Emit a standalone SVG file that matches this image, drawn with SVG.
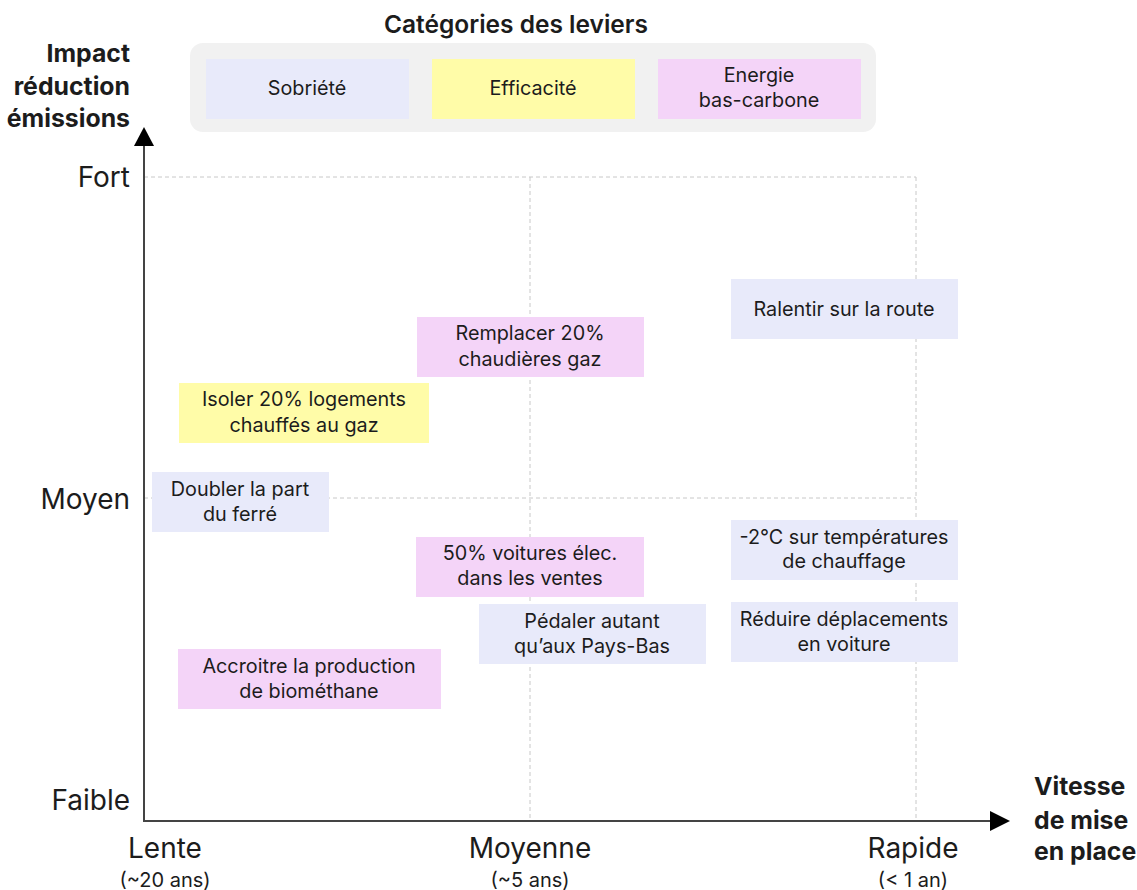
<svg xmlns="http://www.w3.org/2000/svg" width="1137" height="890" viewBox="0 0 1137 890">
<style>
text{font-family:Inter,"Liberation Sans",sans-serif;fill:#1c1c1c}
.n{font-size:19.8px;text-anchor:middle}
.tick{font-size:28px}
.ttl{font-size:24.8px;font-weight:700}
.sub{font-size:20px;text-anchor:middle}
.sob{fill:#e8eafa}
.eff{fill:#fffca8}
.ene{fill:#f4d4f8}
.grid{stroke:#c8c8c8;stroke-width:1;stroke-dasharray:4 3;fill:none}
.axis{stroke:#444;stroke-width:2;fill:none}
</style>
<rect width="1137" height="890" fill="#fff"/>
<g id="legend">
<text x="516" y="33" style="font-size:24.5px;font-weight:600" text-anchor="middle">Catégories des leviers</text>
<rect x="190" y="43" width="686" height="89" rx="13" fill="#f1f1f1"/>
<rect class="sob" x="206" y="59" width="203" height="60"/>
<text class="n" x="307" y="95">Sobriété</text>
<rect class="eff" x="432" y="59" width="203" height="60"/>
<text class="n" x="533" y="95">Efficacité</text>
<rect class="ene" x="658" y="59" width="203" height="60"/>
<text class="n" x="759" y="82">Energie</text>
<text class="n" x="759" y="107">bas-carbone</text>
</g>
<g id="grid">
<path class="grid" d="M144 177H916M144 498H916M530 177V821M916 177V821"/>
</g>
<g id="axes">
<path class="axis" d="M144 143V821H992"/>
<polygon points="144,127 134,146 154,146" fill="#000"/>
<polygon points="1010,821 990,811 990,831" fill="#000"/>
</g>
<g id="axis-labels">
<text class="ttl" x="130" y="62" text-anchor="end">Impact</text>
<text class="ttl" x="130" y="95" text-anchor="end">réduction</text>
<text class="ttl" x="130" y="127" text-anchor="end">émissions</text>
<text class="tick" x="130" y="187" text-anchor="end">Fort</text>
<text class="tick" x="130" y="509" text-anchor="end">Moyen</text>
<text class="tick" x="130" y="810" text-anchor="end">Faible</text>
<text class="tick" x="165" y="858" text-anchor="middle">Lente</text>
<text class="sub" x="165" y="887">(~20 ans)</text>
<text class="tick" x="530" y="858" text-anchor="middle">Moyenne</text>
<text class="sub" x="530" y="887">(~5 ans)</text>
<text class="tick" x="913" y="858" text-anchor="middle">Rapide</text>
<text class="sub" x="913" y="887">(&lt; 1 an)</text>
<text class="ttl" x="1034" y="795">Vitesse</text>
<text class="ttl" x="1034" y="829">de mise</text>
<text class="ttl" x="1034" y="860">en place</text>
</g>
<g id="ralentir">
<rect class="sob" x="731" y="279" width="227" height="60"/>
<text class="n" x="844" y="316">Ralentir sur la route</text>
</g>
<g id="remplacer">
<rect class="ene" x="417" y="317" width="227" height="60"/>
<text class="n" x="530" y="340">Remplacer 20%</text>
<text class="n" x="530" y="366">chaudières gaz</text>
</g>
<g id="isoler">
<rect class="eff" x="179" y="383" width="250" height="60"/>
<text class="n" x="304" y="406">Isoler 20% logements</text>
<text class="n" x="304" y="432">chauffés au gaz</text>
</g>
<g id="doubler">
<rect class="sob" x="152" y="472" width="177" height="60"/>
<text class="n" x="240" y="496">Doubler la part</text>
<text class="n" x="240" y="521">du ferré</text>
</g>
<g id="voitures">
<rect class="ene" x="416" y="537" width="228" height="60"/>
<text class="n" x="530" y="560">50% voitures élec.</text>
<text class="n" x="530" y="585">dans les ventes</text>
</g>
<g id="temperatures">
<rect class="sob" x="731" y="520" width="227" height="60"/>
<text class="n" x="844" y="544">-2°C sur températures</text>
<text class="n" x="844" y="568">de chauffage</text>
</g>
<g id="pedaler">
<rect class="sob" x="479" y="604" width="227" height="60"/>
<text class="n" x="592" y="628">Pédaler autant</text>
<text class="n" x="592" y="653">qu’aux Pays-Bas</text>
</g>
<g id="reduire">
<rect class="sob" x="731" y="602" width="227" height="60"/>
<text class="n" x="844" y="626">Réduire déplacements</text>
<text class="n" x="844" y="651">en voiture</text>
</g>
<g id="biomethane">
<rect class="ene" x="178" y="649" width="263" height="60"/>
<text class="n" x="309" y="673">Accroitre la production</text>
<text class="n" x="309" y="698">de biométhane</text>
</g>
</svg>
